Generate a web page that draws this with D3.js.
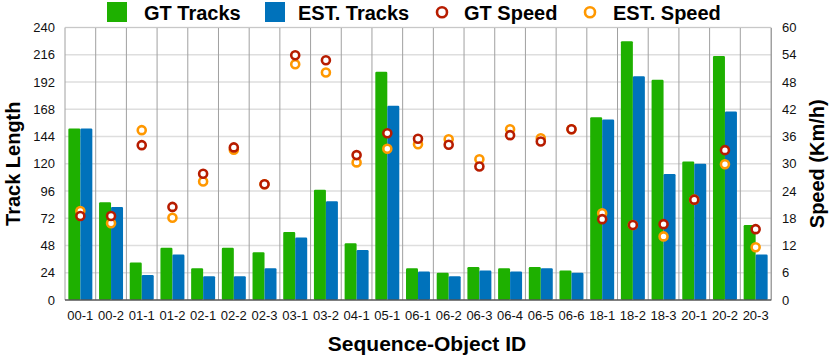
<!DOCTYPE html>
<html>
<head>
<meta charset="utf-8">
<script src="https://cdn.jsdelivr.net/npm/d3@7"></script>
<style>
  body { margin: 0; background: #fff; }
  text { font-family: "Liberation Sans", Arial, Helvetica, sans-serif; }
</style>
</head>
<body>
<svg id="chart" width="830" height="355"></svg>
<script>
'use strict'

const ids = ['00-1','00-2','01-1','01-2','02-1','02-2','02-3','03-1','03-2','04-1','05-1','06-1',
	'06-2','06-3','06-4','06-5','06-6','18-1','18-2','18-3','20-1','20-2','20-3']
const gtTracks  = [151, 86, 33, 46, 28, 46, 42, 60, 97, 50, 201, 28, 24, 29, 28, 29, 26, 161, 228, 194, 122, 215, 66]
const estTracks = [151, 82, 22, 40, 21, 21, 28, 55, 87, 44, 171, 25, 21, 26, 25, 28, 24, 159, 197, 111, 120, 166, 40]
const gtSpeed   = [18.5, 18.5, 34.1, 20.5, 27.8, 33.6, 25.5, 53.9, 52.8, 31.9, 36.7, 35.5, 34.2, 29.4, 36.3, 34.9, 37.6, 17.8, 16.5, 16.7, 22.1, 33.0, 15.6]
const estSpeed  = [19.6, 16.9, 37.4, 18.1, 26.1, 33.1, 25.5, 51.9, 50.1, 30.3, 33.3, 34.3, 35.4, 31.0, 37.6, 35.6, 37.6, 19.1, 16.5, 14.0, 22.1, 29.9, 11.6]
const leftTicks  = [0, 24, 48, 72, 96, 120, 144, 168, 192, 216, 240]
const rightTicks = [0, 6, 12, 18, 24, 30, 36, 42, 48, 54, 60]

const colors = { gt: '#1eb000', est: '#0072bb', gtSpeed: '#b71c00', estSpeed: '#ff9800' }

const margins = { left: 65, right: 59, top: 27.5, bottom: 55 }
const fullwidth = 830
const fullheight = 355
const width = fullwidth - margins.left - margins.right
const height = fullheight - margins.top - margins.bottom

const svg = d3.select('#chart')

const xScale = d3.scaleBand().domain(ids).range([margins.left, margins.left + width])
const inner = d3.scaleBand().domain(['gt', 'est']).range([0, xScale.bandwidth()]).paddingOuter(0.28)
const yLeft = d3.scaleLinear().domain([0, 240]).range([margins.top + height, margins.top])
const yRight = d3.scaleLinear().domain([0, 60]).range([margins.top + height, margins.top])

const rows = ids.map((id, i) => ({
	id: id, gt: gtTracks[i], est: estTracks[i], gs: gtSpeed[i], es: estSpeed[i]
}))

// horizontal grid
svg.append('g')
	.selectAll('line')
	.data(leftTicks.slice(1))
	.join('line')
	.attr('x1', margins.left).attr('x2', margins.left + width)
	.attr('y1', d => yLeft(d)).attr('y2', d => yLeft(d))
	.attr('stroke', '#dedede').attr('stroke-width', 1.5)

// vertical separators
svg.append('g')
	.selectAll('line')
	.data(ids)
	.join('line')
	.attr('x1', d => xScale(d) + xScale.bandwidth())
	.attr('x2', d => xScale(d) + xScale.bandwidth())
	.attr('y1', margins.top).attr('y2', margins.top + height)
	.attr('stroke', '#a0a0a0').attr('stroke-width', 1)

// frame
svg.append('line')
	.attr('x1', margins.left).attr('x2', margins.left)
	.attr('y1', margins.top).attr('y2', margins.top + height)
	.attr('stroke', '#a0a0a0')
svg.append('line')
	.attr('x1', margins.left).attr('x2', margins.left + width)
	.attr('y1', margins.top).attr('y2', margins.top)
	.attr('stroke', '#c8c8c8')

// bars
const group = svg.append('g')
	.selectAll('g')
	.data(rows)
	.join('g')
	.attr('transform', d => 'translate(' + xScale(d.id) + ',0)')

group.append('rect')
	.attr('x', inner('gt'))
	.attr('y', d => yLeft(d.gt))
	.attr('width', inner.bandwidth())
	.attr('height', d => yLeft(0) - yLeft(d.gt))
	.attr('rx', 1.2)
	.attr('fill', colors.gt)

group.append('rect')
	.attr('x', inner('est'))
	.attr('y', d => yLeft(d.est))
	.attr('width', inner.bandwidth())
	.attr('height', d => yLeft(0) - yLeft(d.est))
	.attr('rx', 1.2)
	.attr('fill', colors.est)

// baseline
svg.append('line')
	.attr('x1', margins.left).attr('x2', margins.left + width)
	.attr('y1', yLeft(0)).attr('y2', yLeft(0))
	.attr('stroke', '#555').attr('stroke-width', 1.5)

// speed markers
const cx = d => xScale(d.id) + xScale.bandwidth() / 2
svg.append('g')
	.selectAll('circle')
	.data(rows)
	.join('circle')
	.attr('cx', cx)
	.attr('cy', d => yRight(d.es))
	.attr('r', 4)
	.attr('fill', '#fff')
	.attr('stroke', colors.estSpeed)
	.attr('stroke-width', 2.6)

svg.append('g')
	.selectAll('circle')
	.data(rows)
	.join('circle')
	.attr('cx', cx)
	.attr('cy', d => yRight(d.gs))
	.attr('r', 4)
	.attr('fill', '#fff')
	.attr('stroke', colors.gtSpeed)
	.attr('stroke-width', 2.6)

// axes
const leftAxis = svg.append('g')
	.attr('transform', 'translate(' + margins.left + ',0)')
	.call(d3.axisLeft(yLeft).tickValues(leftTicks).tickSize(0).tickPadding(10))
leftAxis.select('.domain').remove()

const rightAxis = svg.append('g')
	.attr('transform', 'translate(' + (margins.left + width) + ',0)')
	.call(d3.axisRight(yRight).tickValues(rightTicks).tickSize(0).tickPadding(11))
rightAxis.select('.domain').attr('stroke', '#a0a0a0')

const bottomAxis = svg.append('g')
	.attr('transform', 'translate(0,' + (margins.top + height) + ')')
	.call(d3.axisBottom(xScale).tickSize(0).tickPadding(11))
bottomAxis.select('.domain').remove()

svg.selectAll('.tick text')
	.style('font-family', '"Liberation Sans", Arial, sans-serif')
	.style('font-size', '13px')
	.attr('fill', '#111')

// axis titles
svg.append('text')
	.attr('transform', 'translate(20,' + (margins.top + height / 2) + ') rotate(-90)')
	.attr('text-anchor', 'middle')
	.style('font-size', '20px').style('font-weight', 'bold')
	.text('Track Length')

svg.append('text')
	.attr('transform', 'translate(824,' + (margins.top + height / 2) + ') rotate(-90)')
	.attr('text-anchor', 'middle')
	.style('font-size', '20px').style('font-weight', 'bold')
	.text('Speed (Km/h)')

svg.append('text')
	.attr('x', margins.left + width / 2 + 9)
	.attr('y', 351)
	.attr('text-anchor', 'middle')
	.style('font-size', '21px').style('font-weight', 'bold')
	.text('Sequence-Object ID')

// legend
const legend = [
	{ label: 'GT Tracks', type: 'rect', color: colors.gt, x: 107, tx: 144 },
	{ label: 'EST. Tracks', type: 'rect', color: colors.est, x: 265, tx: 298 },
	{ label: 'GT Speed', type: 'circle', color: colors.gtSpeed, x: 442, tx: 464 },
	{ label: 'EST. Speed', type: 'circle', color: colors.estSpeed, x: 590, tx: 613 }
]
legend.forEach(l => {
	if (l.type === 'rect')
		svg.append('rect').attr('x', l.x).attr('y', 2).attr('width', 20).attr('height', 20).attr('fill', l.color)
	else
		svg.append('circle').attr('cx', l.x).attr('cy', 12.3).attr('r', 5).attr('fill', '#fff')
			.attr('stroke', l.color).attr('stroke-width', 2.6)
	svg.append('text')
		.attr('x', l.tx).attr('y', 20)
		.style('font-size', '20px').style('font-weight', 'bold')
		.text(l.label)
})
</script>
</body>
</html>
